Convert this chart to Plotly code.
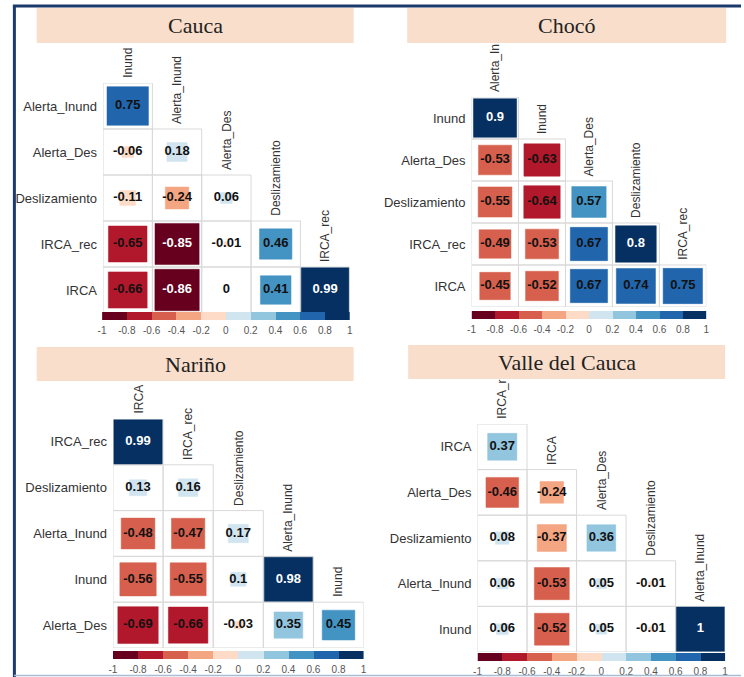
import math
import plotly.graph_objects as go

# ---- data: lower-triangle correlation matrices per department ----
cauca_rows = ["Alerta_Inund", "Alerta_Des", "Deslizamiento", "IRCA_rec", "IRCA"]
cauca_cols = ["Inund", "Alerta_Inund", "Alerta_Des", "Deslizamiento", "IRCA_rec"]
cauca_vals = [
    [0.75],
    [-0.06, 0.18],
    [-0.11, -0.24, 0.06],
    [-0.65, -0.85, -0.01, 0.46],
    [-0.66, -0.86, 0, 0.41, 0.99],
]

choco_rows = ["Inund", "Alerta_Des", "Deslizamiento", "IRCA_rec", "IRCA"]
choco_cols = ["Alerta_In", "Inund", "Alerta_Des", "Deslizamiento", "IRCA_rec"]
choco_vals = [
    [0.9],
    [-0.53, -0.63],
    [-0.55, -0.64, 0.57],
    [-0.49, -0.53, 0.67, 0.8],
    [-0.45, -0.52, 0.67, 0.74, 0.75],
]

narino_rows = ["IRCA_rec", "Deslizamiento", "Alerta_Inund", "Inund", "Alerta_Des"]
narino_cols = ["IRCA", "IRCA_rec", "Deslizamiento", "Alerta_Inund", "Inund"]
narino_vals = [
    [0.99],
    [0.13, 0.16],
    [-0.48, -0.47, 0.17],
    [-0.56, -0.55, 0.1, 0.98],
    [-0.69, -0.66, -0.03, 0.35, 0.45],
]

valle_rows = ["IRCA", "Alerta_Des", "Deslizamiento", "Alerta_Inund", "Inund"]
valle_cols = ["IRCA_r", "IRCA", "Alerta_Des", "Deslizamiento", "Alerta_Inund"]
valle_vals = [
    [0.37],
    [-0.46, -0.24],
    [0.08, -0.37, 0.36],
    [0.06, -0.53, 0.05, -0.01],
    [0.06, -0.52, 0.05, -0.01, 1],
]

titles = ["Cauca", "Chocó", "Nariño", "Valle del Cauca"]

bar_ticks = [-1, -0.8, -0.6, -0.4, -0.2, 0, 0.2, 0.4, 0.6, 0.8, 1]
bar_tick_text = ["-1", "-0.8", "-0.6", "-0.4", "-0.2", "0", "0.2", "0.4", "0.6", "0.8", "1"]

# RdBu, 10 classes
palette = ["#67001F", "#B2182B", "#D6604D", "#F4A582", "#FDDBC7",
           "#D1E5F0", "#92C5DE", "#4393C3", "#2166AC", "#053061"]

# ---- layout geometry (pixels) ----
W, H = 744, 677
panels = [
    dict(title=titles[0], rows=cauca_rows, cols=cauca_cols, vals=cauca_vals,
         grid=(100, 83, 349, 313), bar=(99, 312, 349, 320), box=(33, 8, 353, 43)),
    dict(title=titles[1], rows=choco_rows, cols=choco_cols, vals=choco_vals,
         grid=(472, 97, 709, 307), bar=(472, 311, 709, 319), box=(407, 8, 729, 43)),
    dict(title=titles[2], rows=narino_rows, cols=narino_cols, vals=narino_vals,
         grid=(110, 419, 363, 648), bar=(110, 651, 363, 659), box=(33, 347, 353, 381)),
    dict(title=titles[3], rows=valle_rows, cols=valle_cols, vals=valle_vals,
         grid=(478, 424, 728, 652), bar=(478, 653, 728, 661), box=(408, 345, 728, 379)),
]


def fx(x):
    return x / W


def fy(y):
    return 1 - y / H


def bin_color(v):
    i = int(math.floor((v + 1) / 0.2))
    return palette[max(0, min(9, i))]


def fmt(v):
    return f"{v:g}"


fig = go.Figure()
shapes = []
annotations = []
layout_axes = {}

TEXT = "#333333"
GRIDLINE = "#D9D9D9"

for k, p in enumerate(panels):
    n = len(p["rows"])
    ia, ib = 2 * k + 1, 2 * k + 2
    xa, ya = f"x{ia}", f"y{ia}"
    xb, yb = f"x{ib}", f"y{ib}"
    gx0, gy0, gx1, gy1 = p["grid"]
    bx0, by0, bx1, by1 = p["bar"]

    # main matrix axes
    layout_axes[f"xaxis{ia}"] = dict(domain=[fx(gx0), fx(gx1)], range=[0, n], anchor=ya,
                                     visible=False, fixedrange=True)
    layout_axes[f"yaxis{ia}"] = dict(domain=[fy(gy1), fy(gy0)], range=[n, 0], anchor=xa,
                                     tickvals=[i + 0.5 for i in range(n)], ticktext=p["rows"],
                                     showgrid=False, zeroline=False, showline=False, ticks="",
                                     tickfont=dict(family="Liberation Sans, Arial", size=13, color=TEXT),
                                     ticklabelstandoff=5, fixedrange=True)
    # colour bar axes
    layout_axes[f"xaxis{ib}"] = dict(domain=[fx(bx0), fx(bx1)], range=[-1, 1], anchor=yb,
                                     tickvals=bar_ticks, ticktext=bar_tick_text,
                                     showgrid=False, zeroline=False, showline=False, ticks="",
                                     tickfont=dict(family="Liberation Sans, Arial", size=10, color="#555555"),
                                     ticklabelstandoff=3, fixedrange=True)
    layout_axes[f"yaxis{ib}"] = dict(domain=[fy(by1), fy(by0)], range=[0, 1], anchor=xb,
                                     visible=False, fixedrange=True)

    xs, ys, txt, tcol = [], [], [], []
    for i, row in enumerate(p["vals"]):
        for j, v in enumerate(row):
            # cell outline
            shapes.append(dict(type="rect", xref=xa, yref=ya, x0=j, x1=j + 1, y0=i, y1=i + 1,
                               line=dict(color=GRIDLINE, width=1), fillcolor="rgba(0,0,0,0)",
                               layer="below"))
            xs.append(j + 0.5)
            ys.append(i + 0.5)
            txt.append(fmt(v))
            tcol.append("white" if abs(v) >= 0.8 else "#111111")
    for i, row in enumerate(p["vals"]):
        for j, v in enumerate(row):
            half = 0.5 * math.sqrt(abs(v)) * 0.97
            if half <= 0:
                continue
            c = bin_color(v)
            shapes.append(dict(type="rect", xref=xa, yref=ya,
                               x0=j + 0.5 - half, x1=j + 0.5 + half,
                               y0=i + 0.5 - half, y1=i + 0.5 + half,
                               line=dict(color=c, width=0.5), fillcolor=c, layer="below"))

    fig.add_trace(go.Scatter(x=xs, y=ys, mode="text", text=txt, xaxis=xa, yaxis=ya,
                             textfont=dict(family="Liberation Sans, Arial", size=13,
                                           color=tcol, weight="bold"),
                             hoverinfo="skip", showlegend=False))

    # column labels above the first cell of each column
    for j, lab in enumerate(p["cols"]):
        annotations.append(dict(text=lab, x=j + 0.5, y=j, xref=xa, yref=ya, showarrow=False,
                                textangle=-90, xanchor="center", yanchor="bottom", yshift=3,
                                font=dict(family="Liberation Sans, Arial", size=12, color=TEXT)))

    # discrete colour legend
    centers = [round(-0.9 + 0.2 * b, 1) for b in range(10)]
    cscale = []
    for b, c in enumerate(palette):
        cscale.append([b / 10, c])
        cscale.append([(b + 1) / 10, c])
    fig.add_trace(go.Heatmap(x=centers, y=[0.5], z=[centers], zmin=-1, zmax=1,
                             colorscale=cscale, showscale=False, xaxis=xb, yaxis=yb,
                             hoverinfo="skip"))

    # title band
    x0, y0, x1, y1 = p["box"]
    shapes.append(dict(type="rect", xref="paper", yref="paper", x0=fx(x0), x1=fx(x1),
                       y0=fy(y1), y1=fy(y0), fillcolor="#F9DECB", line=dict(width=0),
                       layer="below"))
    annotations.append(dict(text=p["title"], x=fx((x0 + x1) / 2), y=fy((y0 + y1) / 2),
                            xref="paper", yref="paper", showarrow=False,
                            xanchor="center", yanchor="middle",
                            font=dict(family="Liberation Serif, Times New Roman", size=22,
                                      color="#222222")))

# outer frame
shapes.append(dict(type="line", xref="paper", yref="paper", x0=fx(10.5), x1=fx(10.5),
                   y0=0, y1=fy(5), line=dict(color="#1B3A6B", width=3)))
shapes.append(dict(type="line", xref="paper", yref="paper", x0=fx(9), x1=1,
                   y0=fy(6), y1=fy(6), line=dict(color="#1B3A6B", width=3)))
shapes.append(dict(type="line", xref="paper", yref="paper", x0=fx(10), x1=1,
                   y0=fy(675.5), y1=fy(675.5), line=dict(color="#A9BDD3", width=1.5)))

fig.update_layout(width=W, height=H, margin=dict(l=0, r=0, t=0, b=0),
                  paper_bgcolor="white", plot_bgcolor="rgba(0,0,0,0)",
                  shapes=shapes, annotations=annotations, showlegend=False,
                  **layout_axes)

fig.write_html("out.html")
